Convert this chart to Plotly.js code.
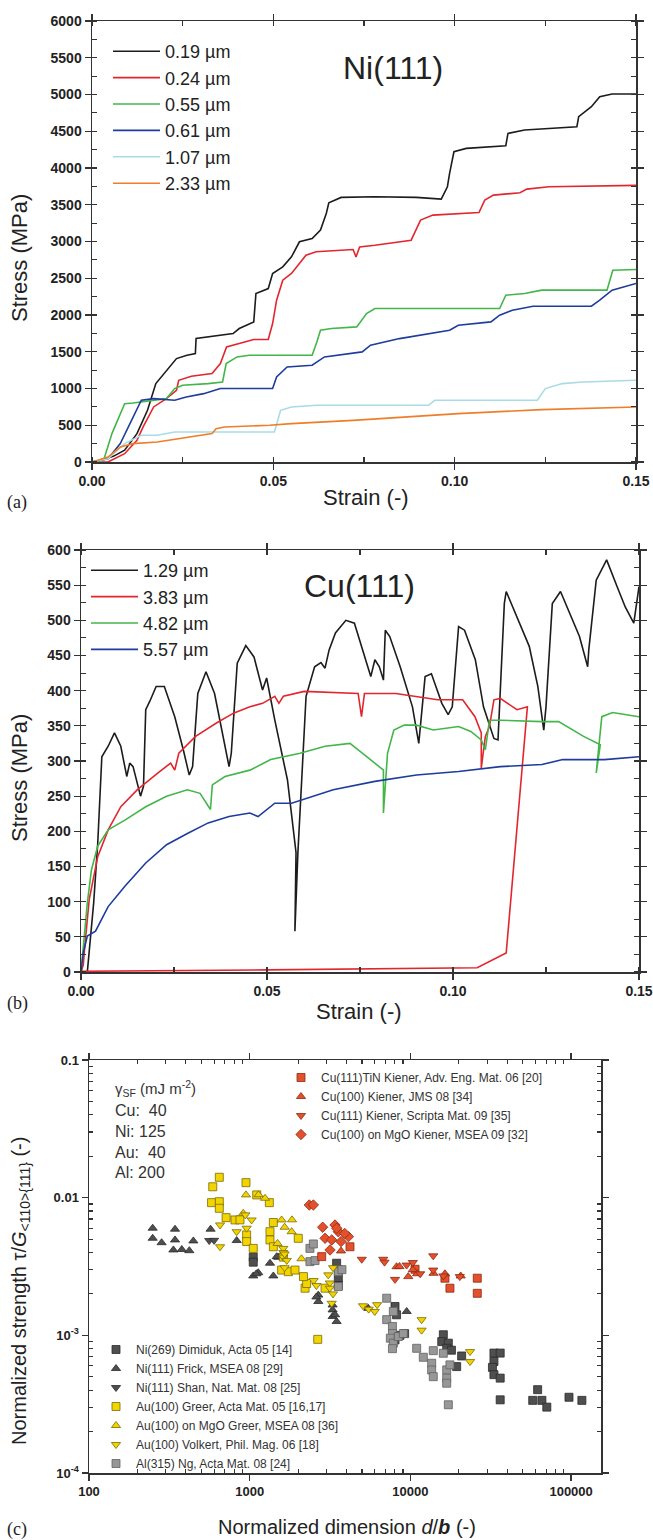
<!DOCTYPE html>
<html><head><meta charset="utf-8">
<script src="https://cdn.plot.ly/plotly-3.0.1.min.js"></script>
<style>html,body{margin:0;padding:0;background:#fff}</style>
</head><body><div id="chart" style="width:653px;height:1540px"></div>
<script>
// ---------- Panel (a): Ni(111) ----------
const a019_x = [0,0.003,0.006,0.009,0.0124,0.0153,0.0176,0.0205,0.0233,0.0262,0.0285,0.0287,0.032,0.0389,0.0406,0.0446,0.0452,0.0486,0.0498,0.0526,0.055,0.0572,0.0607,0.063,0.0646,0.0653,0.0687,0.078,0.0894,0.0963,0.098,0.0986,0.0998,0.1032,0.1141,0.1147,0.1193,0.1337,0.1342,0.1377,0.14,0.1434,0.15];
const a019_y = [0,30,80,160,386,703,1067,1248,1407,1452,1475,1680,1702,1748,1816,1906,2292,2360,2565,2655,2791,2996,3041,3155,3382,3527,3600,3608,3600,3577,3745,3926,4221,4267,4303,4471,4516,4562,4698,4834,4970,5007,5007];
const a024_x = [0,0.0044,0.009,0.0124,0.0141,0.017,0.0205,0.0233,0.0239,0.0274,0.0331,0.0354,0.0371,0.0423,0.0446,0.0486,0.0498,0.0509,0.0526,0.055,0.059,0.0618,0.072,0.0728,0.0738,0.078,0.088,0.0906,0.094,0.1067,0.1083,0.1107,0.118,0.1199,0.126,0.15];
const a024_y = [0,0,113,295,477,749,862,976,1112,1166,1203,1339,1566,1634,1666,1666,1884,2201,2474,2565,2814,2860,2891,2791,2927,2950,3018,3291,3359,3395,3563,3631,3663,3713,3745,3763];
const a055_x = [0,0.0032,0.0055,0.009,0.0113,0.0205,0.0228,0.025,0.032,0.036,0.037,0.040,0.0434,0.0607,0.062,0.063,0.066,0.073,0.0757,0.078,0.1124,0.1141,0.1193,0.124,0.142,0.1436,0.15];
const a055_y = [0,23,386,794,803,862,999,1044,1067,1089,1339,1430,1452,1452,1634,1793,1816,1838,2020,2088,2088,2270,2292,2338,2338,2610,2619];
const a061_x = [0,0.0044,0.0078,0.0113,0.0136,0.017,0.0228,0.026,0.0308,0.0354,0.039,0.0498,0.0509,0.0538,0.0607,0.0641,0.0745,0.0768,0.0848,0.0986,0.101,0.11,0.1124,0.1159,0.1216,0.1377,0.14,0.1434,0.15];
const a061_y = [0,45,250,613,840,862,840,885,930,999,999,999,1157,1293,1316,1430,1498,1589,1679,1793,1861,1906,1997,2065,2120,2120,2201,2338,2428];
const a107_x = [0,0.0044,0.009,0.0136,0.018,0.0228,0.0503,0.052,0.055,0.062,0.0928,0.0945,0.1228,0.125,0.1297,0.1354,0.15];
const a107_y = [0,45,250,363,363,408,408,703,749,772,772,840,840,999,1067,1089,1112];
const a233_x = [0,0.0044,0.0078,0.0113,0.018,0.0239,0.0331,0.0342,0.0365,0.049,0.055,0.072,0.0894,0.101,0.124,0.15];
const a233_y = [0,68,204,250,272,318,386,454,477,499,522,567,622,658,713,749];
const aNames = ["0.19 µm","0.24 µm","0.55 µm","0.61 µm","1.07 µm","2.33 µm"];

// ---------- Panel (b): Cu(111) ----------
const b129_x = [0,0.0017,0.0034,0.0045,0.0056,0.0073,0.009,0.0107,0.0123,0.0131,0.014,0.016,0.0168,0.0174,0.0185,0.0202,0.0224,0.0252,0.0275,0.0291,0.030,0.0314,0.0336,0.0359,0.0398,0.0404,0.042,0.0443,0.0465,0.0488,0.0499,0.0521,0.0555,0.0578,0.0575,0.0583,0.0605,0.0628,0.0645,0.0656,0.0667,0.0684,0.0712,0.0735,0.0768,0.0779,0.079,0.0802,0.0813,0.0818,0.083,0.0858,0.0891,0.0908,0.0925,0.0942,0.097,0.0987,0.0998,0.1015,0.1031,0.106,0.1082,0.111,0.1121,0.1138,0.1143,0.1172,0.1205,0.1228,0.1244,0.125,0.1267,0.1289,0.1306,0.134,0.1362,0.1365,0.1385,0.1413,0.1441,0.1463,0.1486,0.15];
const b129_y = [0,0,98,183,306,321,340,321,278,297,292,250,264,373,385,406,406,363,316,280,292,396,427,396,292,311,439,464,448,401,418,358,273,170,58,169,392,434,440,432,458,482,500,496,439,420,444,434,415,486,477,434,377,325,420,424,382,366,377,491,486,444,377,332,330,524,541,505,463,406,344,377,524,541,519,477,434,458,557,586,548,519,496,548];
const b383_x = [0,0.0006,0.0011,0.0022,0.0045,0.0073,0.0107,0.0151,0.0207,0.0241,0.0252,0.0263,0.0308,0.0364,0.041,0.0454,0.0488,0.0521,0.0532,0.0544,0.06,0.0678,0.0745,0.0754,0.0762,0.0846,0.0902,0.0959,0.1026,0.1059,0.1076,0.1076,0.1087,0.1098,0.111,0.1127,0.1172,0.12,0.1143,0.1065,0.05,0];
const b383_y = [0,10,41,103,164,202,235,259,283,297,287,311,335,354,368,377,382,392,382,392,399,397,396,363,396,396,392,387,387,363,340,290,335,349,387,389,373,377,27,6,3,1];
const b482_x = [0,0.0006,0.0017,0.0028,0.0045,0.0073,0.0118,0.0174,0.023,0.0286,0.032,0.0348,0.0353,0.0387,0.0454,0.051,0.0589,0.0656,0.0723,0.0757,0.0813,0.0813,0.0824,0.0841,0.0869,0.0902,0.0947,0.1015,0.1048,0.1076,0.1087,0.1098,0.1127,0.1239,0.1284,0.1351,0.1396,0.1385,0.14,0.1429,0.15];
const b482_y = [0,32,98,145,179,202,216,235,250,259,254,231,266,278,287,302,311,321,325,311,287,226,311,344,351,351,344,349,342,330,316,358,358,356,356,335,323,283,363,369,363];
const b557_x = [0,0.0006,0.0017,0.0039,0.0073,0.0118,0.0174,0.023,0.0286,0.0342,0.0398,0.0454,0.0476,0.051,0.0521,0.0566,0.0622,0.0678,0.079,0.0902,0.1015,0.1127,0.1239,0.1295,0.1407,0.15];
const b557_y = [0,27,51,58,93,122,155,181,197,212,221,226,221,235,240,240,250,259,271,280,285,292,295,302,302,306];
const bNames = ["1.29 µm","3.83 µm","4.82 µm","5.57 µm"];

// ---------- Panel (c): normalized strength vs normalized dimension ----------
const ni269_x = [1052,1052,3474,3560,3560,3560,8020,8200,8610,8020,9200,16030,15670,17220,16820,18000,20840,19400,33100,36200,33100,32400,33100,36200,36200,61900,57700,65800,70600,97000,116700];
const ni269_y = [0.0037,0.0034,0.00334,0.0030,0.0026,0.0023,0.00162,0.00141,0.0010,0.000926,0.00103,0.00101,0.0009,0.000877,0.000805,0.00078,0.000708,0.000593,0.000743,0.000743,0.000646,0.000585,0.000518,0.000489,0.00034,0.000403,0.000337,0.000337,0.000301,0.000355,0.000337];
const frick_x = [249,343,249,283,343,335,378,421,446,571,830,1052,1131,1403,1337,1507,1473,2673,2673,3280,3280,3280,3398,3475,5470,9480,2600,1100];
const frick_y = [0.0060,0.0059,0.00507,0.00471,0.00493,0.00417,0.0042,0.00412,0.00485,0.0059,0.00488,0.0027,0.00285,0.0027,0.00334,0.00369,0.00373,0.00196,0.00176,0.00166,0.00153,0.00137,0.00141,0.00126,0.00157,0.00149,0.0019,0.0028];
const shan_x = [560,600];
const shan_y = [0.00488,0.0049];
const greer_x = [647,589,948,579,647,647,713,810,1106,1325,957,957,1052,1403,1337,1337,1403,1580,1740,2005,1620,2210,2260,2160,1914,2944,2650,870];
const greer_y = [0.01406,0.0120,0.01285,0.0092,0.00935,0.00837,0.00716,0.00689,0.01047,0.0092,0.00536,0.0048,0.00428,0.0066,0.00566,0.00493,0.0044,0.00298,0.0029,0.00507,0.0037,0.0022,0.00238,0.00267,0.00298,0.0022,0.000935,0.0069];
const aumgo_x = [948,1245,912,1580,1824,1833,1135,1490,1650,2100];
const aumgo_y = [0.01047,0.0099,0.0077,0.00689,0.00566,0.0069,0.0105,0.00465,0.0061,0.0036];
const volkert_x = [654,654,1028,830,957,1618,1618,1618,1650,1700,1650,3082,3150,3150,3300,3300,3238,5070,5500,6210,6000,11740,11740,23500,23500,2500,2600,940];
const volkert_y = [0.00634,0.0044,0.00689,0.00566,0.006,0.00428,0.0040,0.0037,0.0039,0.0035,0.0031,0.00275,0.0024,0.0022,0.0020,0.0031,0.00171,0.00164,0.00155,0.00167,0.00149,0.0013,0.00109,0.000762,0.000645,0.0025,0.0023,0.0075];
const ng_x = [2370,2490,2370,2550,3560,3560,7120,7830,7120,7730,7730,7500,7830,7730,8410,9040,10940,12030,13880,13560,13560,13880,16030,16820,16820,17620,16820,17220,3750];
const ng_y = [0.00428,0.00461,0.00343,0.00349,0.0029,0.00226,0.00186,0.00149,0.0013,0.00116,0.00103,0.000953,0.000877,0.0008,0.00098,0.00103,0.000805,0.000693,0.000774,0.000627,0.00056,0.000501,0.000741,0.000561,0.000488,0.00061,0.000449,0.000313,0.003];
const tin_x = [2805,4207,10690,16400,17620,26070,26070];
const tin_y = [0.00373,0.0044,0.00302,0.0026,0.0022,0.0026,0.00202];
const jms_x = [3700,8200,8550,9700,10350,13930,16400,20560,11000];
const jms_y = [0.0041,0.00315,0.00316,0.00267,0.003,0.00282,0.0028,0.0027,0.0028];
const scripta_x = [4980,6770,6900,9470,8020,13870,13870,16030,20300,10350,11500];
const scripta_y = [0.00357,0.00357,0.0034,0.00324,0.00255,0.00378,0.00298,0.0027,0.00267,0.00338,0.0028];
const cumgo_x = [2350,2490,2844,3395,2944,3238,3558,4113,3700,3160,3480,3900];
const cumgo_y = [0.00885,0.00885,0.0061,0.00633,0.00507,0.00493,0.00566,0.00521,0.0048,0.00417,0.006,0.0055];

const cNamesCu = ["Cu(111)TiN Kiener, Adv. Eng. Mat. 06 [20]","Cu(100) Kiener, JMS 08 [34]","Cu(111) Kiener, Scripta Mat. 09 [35]","Cu(100) on MgO Kiener, MSEA 09 [32]"];
const cNamesOther = ["Ni(269) Dimiduk, Acta 05 [14]","Ni(111) Frick, MSEA 08 [29]","Ni(111) Shan, Nat. Mat. 08 [25]","Au(100) Greer, Acta Mat. 05 [16,17]","Au(100) on MgO Greer, MSEA 08 [36]","Au(100) Volkert, Phil. Mag. 06 [18]","Al(315) Ng, Acta Mat. 08 [24]"];

// ---------- styling ----------
const W = 653, H = 1540;
const px = v => v / W, py = v => 1 - v / H;
const aColors = ["#1c1c1c","#e3262e","#43b649","#1d3c9c","#a9dbe6","#ef7d29"];
const bColors = ["#1c1c1c","#e3262e","#43b649","#1d3c9c"];
const traces = [];
const aData = [[a019_x,a019_y],[a024_x,a024_y],[a055_x,a055_y],[a061_x,a061_y],[a107_x,a107_y],[a233_x,a233_y]];
aData.forEach((d,i)=>traces.push({x:d[0],y:d[1],type:'scatter',mode:'lines',name:aNames[i],
  line:{color:aColors[i],width:1.6},xaxis:'x',yaxis:'y',legend:'legend'}));
const bData = [[b129_x,b129_y],[b383_x,b383_y],[b482_x,b482_y],[b557_x,b557_y]];
bData.forEach((d,i)=>traces.push({x:d[0],y:d[1],type:'scatter',mode:'lines',name:bNames[i],
  line:{color:bColors[i],width:1.6},xaxis:'x2',yaxis:'y2',legend:'legend2'}));

const dark = {c:'#4f4f4f', l:'#2b2b2b'}, yel = {c:'#f2d500', l:'#7a6a00'},
      gry = {c:'#979797', l:'#626262'}, red = {c:'#e4502c', l:'#8b2a12'};
function sc(x,y,name,sym,col,leg,rank){
  return {x:x,y:y,type:'scatter',mode:'markers',name:name,xaxis:'x3',yaxis:'y3',legend:leg,legendrank:rank,
    marker:{symbol:sym,size:8,color:col.c,line:{color:col.l,width:0.8}}};
}
traces.push(sc(ni269_x,ni269_y,cNamesOther[0],'square',dark,'legend4',1));
traces.push(sc(frick_x,frick_y,cNamesOther[1],'triangle-up',dark,'legend4',2));
traces.push(sc(shan_x,shan_y,cNamesOther[2],'triangle-down',dark,'legend4',3));
traces.push(sc(ng_x,ng_y,cNamesOther[6],'square',gry,'legend4',7));
traces.push(sc(greer_x,greer_y,cNamesOther[3],'square',yel,'legend4',4));
traces.push(sc(aumgo_x,aumgo_y,cNamesOther[4],'triangle-up',yel,'legend4',5));
traces.push(sc(volkert_x,volkert_y,cNamesOther[5],'triangle-down',yel,'legend4',6));
traces.push(sc(tin_x,tin_y,cNamesCu[0],'square',red,'legend3',1));
traces.push(sc(jms_x,jms_y,cNamesCu[1],'triangle-up',red,'legend3',2));
traces.push(sc(scripta_x,scripta_y,cNamesCu[2],'triangle-down',red,'legend3',3));
traces.push(sc(cumgo_x,cumgo_y,cNamesCu[3],'diamond',red,'legend3',4));

const tickFont = {family:'Liberation Sans, Arial, sans-serif', size:14, color:'#222', weight:'bold'};
const axBase = {showline:true, linecolor:'#333', linewidth:1.5, mirror:'ticks', ticks:'outside',
  ticklen:6, tickwidth:1.3, tickcolor:'#333', showgrid:false, zeroline:false, tickfont:tickFont,
  minor:{ticks:'inside', ticklen:5, tickwidth:1.1, tickcolor:'#333', showgrid:false}};

const logMinor = (lo, hi) => { const v=[]; for(let e=lo;e<hi;e++){for(let k=2;k<=9;k++){v.push(k*Math.pow(10,e));}} return v; };

function ann(text, x, y, size, extra){
  return Object.assign({text:text, x:px(x), y:py(y), xref:'paper', yref:'paper', showarrow:false,
    xanchor:'center', yanchor:'middle', font:{size:size, color:'#222'}}, extra || {});
}
const serif = {family:'Liberation Serif, Times New Roman, serif', size:18, color:'#222'};

const layout = {
  width:W, height:H, margin:{l:0,r:0,t:0,b:0}, paper_bgcolor:'#fff', plot_bgcolor:'#fff',
  font:{family:'Liberation Sans, Arial, sans-serif', color:'#222'},
  xaxis: Object.assign({}, axBase, {domain:[px(92),px(636)], anchor:'y', range:[0,0.15], dtick:0.05, tickformat:'.2f',
    minor:Object.assign({}, axBase.minor, {dtick:0.025})}),
  yaxis: Object.assign({}, axBase, {domain:[py(462),py(21)], anchor:'x', range:[0,6000], dtick:500,
    minor:Object.assign({}, axBase.minor, {dtick:250})}),
  xaxis2: Object.assign({}, axBase, {domain:[px(81),px(639)], anchor:'y2', range:[0,0.15], dtick:0.05, tickformat:'.2f',
    minor:Object.assign({}, axBase.minor, {dtick:0.025})}),
  yaxis2: Object.assign({}, axBase, {domain:[py(972),py(550)], anchor:'x2', range:[0,600], dtick:50,
    minor:Object.assign({}, axBase.minor, {dtick:25})}),
  xaxis3: Object.assign({}, axBase, {domain:[px(89),px(601)], anchor:'y3', type:'log', range:[2,5.186],
    tickmode:'array', tickvals:[100,1000,10000,100000], ticktext:['100','1000','10000','100000'],
    tickfont:Object.assign({}, tickFont, {size:13}),
    minor:Object.assign({}, axBase.minor, {tickmode:'array', tickvals:logMinor(2,6).filter(v=>v<153000), ticklen:4})}),
  yaxis3: Object.assign({}, axBase, {domain:[py(1473),py(1060)], anchor:'x3', type:'log', range:[-4,-1],
    tickmode:'array', tickvals:[0.0001,0.001,0.01,0.1], ticktext:['10<sup>-4</sup>','10<sup>-3</sup>','0.01','0.1'],
    tickfont:Object.assign({}, tickFont, {size:13}),
    minor:Object.assign({}, axBase.minor, {tickmode:'array', tickvals:logMinor(-4,-1), ticklen:4})}),
  legend: {x:px(108), y:py(33), xanchor:'left', yanchor:'top', bgcolor:'rgba(0,0,0,0)',
    font:{size:18, color:'#222'}, itemwidth:47, tracegroupgap:0},
  legend2: {x:px(86), y:py(552), xanchor:'left', yanchor:'top', bgcolor:'rgba(0,0,0,0)',
    font:{size:18, color:'#222'}, itemwidth:47, tracegroupgap:0},
  legend3: {x:px(281), y:py(1063), xanchor:'left', yanchor:'top', bgcolor:'rgba(0,0,0,0)',
    font:{size:12, color:'#333'}, itemwidth:30, traceorder:'normal'},
  legend4: {x:px(96), y:py(1335), xanchor:'left', yanchor:'top', bgcolor:'rgba(0,0,0,0)',
    font:{size:12, color:'#333'}, itemwidth:30, traceorder:'normal'},
  showlegend:true,
  annotations: [
    ann('Ni(111)', 393, 68, 32),
    ann('Cu(111)', 359, 586, 32),
    ann('Stress (MPa)', 19, 258, 22, {textangle:-90}),
    ann('Strain (-)', 366, 498, 22),
    ann('Stress (MPa)', 19, 778, 22, {textangle:-90}),
    ann('Strain (-)', 359, 1011, 22),
    ann('Normalized strength τ/<i>G</i><sub>&lt;110&gt;{111}</sub> (-)', 20, 1291, 20, {textangle:-90}),
    ann('Normalized dimension <i>d</i>/<b><i>b</i></b> (-)', 347, 1527, 20),
    ann('γ<sub>SF</sub> (mJ m<sup>-2</sup>)', 113, 1088, 15, {xanchor:'left', font:{size:15, color:'#333'}}),
    ann('Cu:\u00a0\u00a040<br>Ni: 125<br>Au:\u00a0\u00a040<br>Al: 200', 113, 1100, 16, {xanchor:'left', yanchor:'top', align:'left', font:{size:16, color:'#333'}}),
    ann('(a)', 5, 502, 18, {xanchor:'left', font:serif}),
    ann('(b)', 5, 1003, 18, {xanchor:'left', font:serif}),
    ann('(c)', 5, 1529, 18, {xanchor:'left', font:serif})
  ]
};
Plotly.newPlot('chart', traces, layout, {staticPlot:true});
</script></body></html>
